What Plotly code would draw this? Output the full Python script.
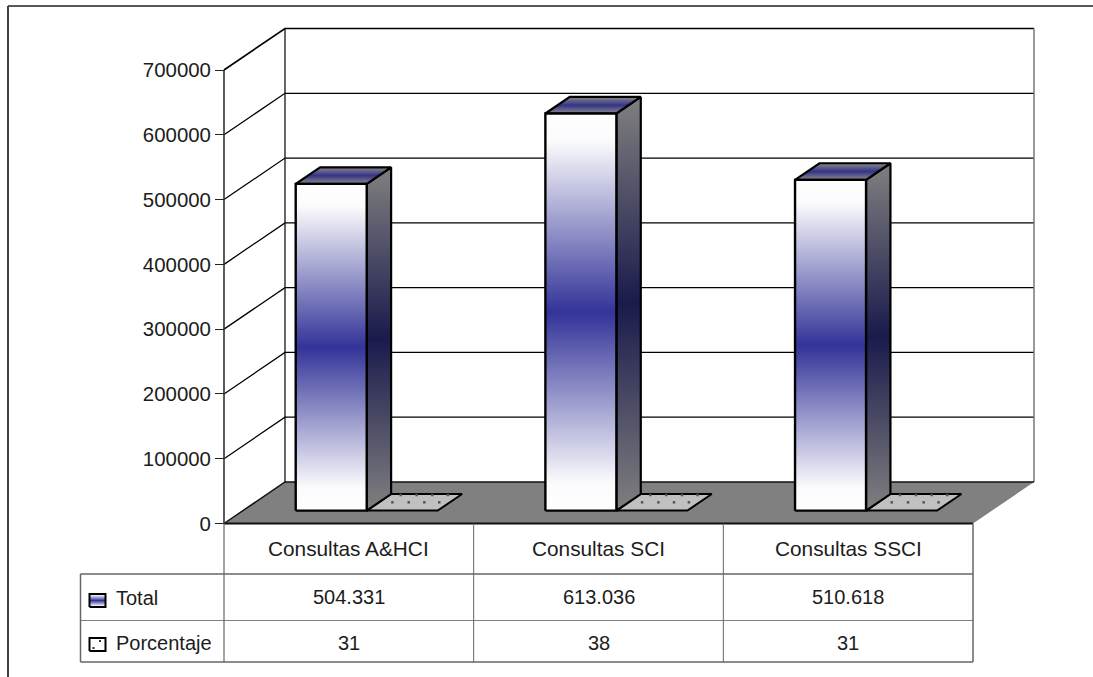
import plotly.graph_objects as go

# ---- data ----
categories = ["Consultas A&HCI", "Consultas SCI", "Consultas SSCI"]
total_values = [504331, 613036, 510618]
pct_values = [31, 38, 31]
total_labels = ["504.331", "613.036", "510.618"]
pct_labels = ["31", "38", "31"]
tick_values = [0, 100000, 200000, 300000, 400000, 500000, 600000, 700000]
series_names = ["Total", "Porcentaje"]

# ---- layout constants (pixels) ----
W, H = 1093, 677
LEFT, RIGHT, TOP, BOTTOM = 224, 973, 70, 523.5
YMAX = 700000
UX = 3 / (RIGHT - LEFT)            # data units per px
UY = YMAX / (BOTTOM - TOP)
DEPTH_X = 61 * UX                  # projection of the chart's depth
DEPTH_Y = 41.5 * UY
BAR_D0, BAR_D1 = 0.31, 0.71        # bar front / back as share of the depth
BAR_OFF, BAR_W = 52.8 * UX, 71 * UX

FONT = "Liberation Sans, Arial, sans-serif"
TXT = "#1c1c1c"


def px(x):
    return (x - LEFT) * UX


def py(y):
    return (BOTTOM - y) * UY


def proj(x, v, d):
    """Project a point at depth share d onto the picture plane."""
    return x + d * DEPTH_X, v + d * DEPTH_Y


fig = go.Figure()


def poly(pts, fill=None, line="black", width=1.0, grad=None, closed=True):
    xs = [p[0] for p in pts]
    ys = [p[1] for p in pts]
    if closed:
        xs.append(xs[0])
        ys.append(ys[0])
    kw = dict(x=xs, y=ys, mode="lines", showlegend=False, hoverinfo="skip",
              line=dict(color=line, width=width, simplify=False))
    if grad:
        kw["fill"] = "toself"
        kw["fillgradient"] = dict(type="vertical", colorscale=grad)
    elif fill:
        kw["fill"] = "toself"
        kw["fillcolor"] = fill
    fig.add_trace(go.Scatter(**kw))


FRONT = [[0, "#ffffff"], [0.07, "#fbfbfd"], [0.5, "#333399"], [0.93, "#fbfbfd"], [1, "#ffffff"]]
SIDE = [[0, "#808080"], [0.5, "#1a1a4d"], [1, "#808080"]]
CAP = [[0, "#8a8a8a"], [0.5, "#333388"], [1, "#8a8a8a"]]

# back wall + side wall
for v in tick_values[1:]:
    w = 1.7 if v == YMAX else 1.25
    poly([proj(0, v, 0), proj(0, v, 1), proj(3, v, 1)], line="#000000", width=w, closed=False)
poly([proj(0, 0, 1), proj(0, YMAX, 1)], line="#000000", width=1.2, closed=False)
poly([proj(3, 0, 1), proj(3, YMAX, 1)], line="#777777", width=1.5, closed=False)

# floor
poly([proj(0, 0, 0), proj(3, 0, 0), proj(3, 0, 1), proj(0, 0, 1)],
     fill="#808080", line="rgba(0,0,0,0)", width=0)
poly([proj(0, 0, 0), proj(0, 0, 1), proj(3, 0, 1)], line="#111111", width=1.5, closed=False)
poly([proj(0, 0, 0), proj(3, 0, 0)], line="#111111", width=2, closed=False)
# value axis line
poly([proj(0, 0, 0), proj(0, YMAX, 0)], line="#333333", width=1.6, closed=False)

# series
for i, (tot, pct) in enumerate(zip(total_values, pct_values)):
    # Porcentaje (second series, virtually flat)
    x0 = i + BAR_OFF + BAR_W
    x1 = x0 + BAR_W
    poly([proj(x0, pct, BAR_D0), proj(x1, pct, BAR_D0), proj(x1, pct, BAR_D1), proj(x0, pct, BAR_D1)],
         fill="#c0c0c0", line="black", width=2)
    dots_x, dots_y = [], []
    for t, shares in ((0.5, (0.19, 0.42, 0.64, 0.85)), (0.94, (0.155, 0.38, 0.6, 0.82))):
        for s in shares:
            d = BAR_D0 + t * (BAR_D1 - BAR_D0)
            dx, dy = proj(x0 + s * BAR_W, pct, d)
            dots_x.append(dx)
            dots_y.append(dy)
    fig.add_trace(go.Scatter(x=dots_x, y=dots_y, mode="markers", showlegend=False, hoverinfo="skip",
                             marker=dict(symbol="square", size=2.5, color="#555555")))

    # Total
    x0 = i + BAR_OFF
    x1 = x0 + BAR_W
    poly([proj(x1, 0, BAR_D0), proj(x1, 0, BAR_D1), proj(x1, tot, BAR_D1), proj(x1, tot, BAR_D0)],
         grad=SIDE, line="black", width=2.2)
    poly([proj(x0, tot, BAR_D0), proj(x1, tot, BAR_D0), proj(x1, tot, BAR_D1), proj(x0, tot, BAR_D1)],
         grad=CAP, line="black", width=2.2)
    poly([proj(x0, 0, BAR_D0), proj(x1, 0, BAR_D0), proj(x1, tot, BAR_D0), proj(x0, tot, BAR_D0)],
         grad=FRONT, line="black", width=2.4)

# legend keys inside the data table
poly([(px(89.5), py(607)), (px(105.5), py(607)), (px(105.5), py(594)), (px(89.5), py(594))],
     grad=FRONT, line="black", width=2)
poly([(px(89.5), py(651)), (px(105.5), py(651)), (px(105.5), py(638)), (px(89.5), py(638))],
     fill="white", line="black", width=2)
fig.add_trace(go.Scatter(x=[px(93.5), px(100)], y=[py(648), py(641)], mode="markers", showlegend=False,
                         hoverinfo="skip",
                         marker=dict(symbol="square", size=2, color="#333333")))


def pv(y):
    return 1 - y / H


def ph(x):
    return x / W


shapes = []


def seg(x0, y0, x1, y1, color, width):
    shapes.append(dict(type="line", xref="paper", yref="paper", x0=ph(x0), x1=ph(x1),
                       y0=pv(y0), y1=pv(y1), line=dict(color=color, width=width), layer="above"))


# outer frame
seg(8, 6, W, 6, "#222222", 1.5)
seg(8, 6, 8, H, "#404040", 2)
# table
T1, T2, T3 = 574, 620.5, 662
C = [LEFT + k * (RIGHT - LEFT) / 3 for k in range(4)]
seg(80.5, T1, RIGHT, T1, "#666666", 1.5)
seg(80.5, T2, RIGHT, T2, "#808080", 1)
seg(80.5, T3, RIGHT, T3, "#666666", 1.5)
seg(80.5, T1, 80.5, T3, "#666666", 1.5)
seg(C[0], BOTTOM, C[0], T3, "#666666", 1.2)
seg(C[1], BOTTOM, C[1], T3, "#666666", 1)
seg(C[2], BOTTOM, C[2], T3, "#666666", 1)
seg(C[3], BOTTOM, C[3], T3, "#666666", 1.5)

annotations = []


def label(text, x, y, size=20, anchor="center", xref="x"):
    annotations.append(dict(text=text, x=x, y=pv(y), xref=xref, yref="paper", showarrow=False,
                            xanchor=anchor, yanchor="middle", font=dict(family=FONT, size=size, color=TXT)))


for i in range(3):
    label(categories[i], i + 0.5, 548.5, size=20.8)
    label(total_labels[i], i + 0.5, 597)
    label(pct_labels[i], i + 0.5, 643)
label(series_names[0], ph(114), 598, anchor="left", xref="paper")
label(series_names[1], ph(114), 643, anchor="left", xref="paper")

fig.update_layout(
    width=W, height=H, autosize=False,
    margin=dict(l=0, r=0, t=0, b=0, pad=0),
    paper_bgcolor="white", plot_bgcolor="white",
    showlegend=False, hovermode=False,
    shapes=shapes, annotations=annotations,
    xaxis=dict(range=[px(0), px(W)], visible=False, fixedrange=True),
    yaxis=dict(range=[py(H), py(0)], tickmode="array", tickvals=tick_values,
               ticktext=[str(v) for v in tick_values],
               anchor="free", position=LEFT / W,
               ticks="outside", ticklen=9, tickwidth=1.2, tickcolor="#222222",
               showline=False, showgrid=False, zeroline=False, fixedrange=True,
               tickfont=dict(family=FONT, size=20.4, color=TXT)),
)

fig.write_html("out.html", config={"displayModeBar": False},
               post_script="document.body.style.margin='0';")
